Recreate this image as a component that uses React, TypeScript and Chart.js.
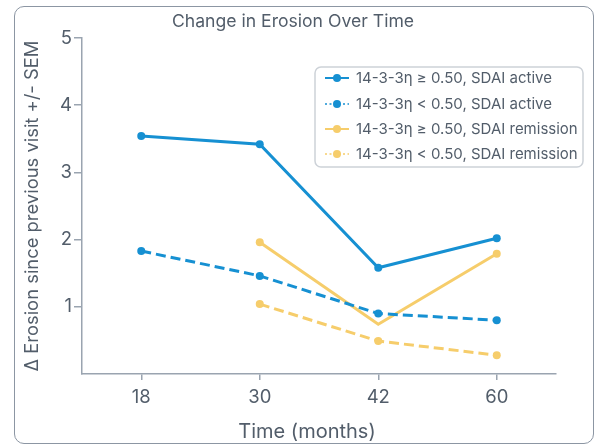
import React, { useEffect, useRef } from "react";
import { Chart, registerables } from "chart.js";

Chart.register(...registerables);

const categories = ["18", "30", "42", "60"];
const highActive = [3.54, 3.42, 1.58, 2.02];
const lowActive = [1.83, 1.46, 0.9, 0.8];
const highRemission = [null, 1.96, 0.74, 1.79];
const lowRemission = [null, 1.04, 0.49, 0.28];
const seriesLabels = [
  "14-3-3η ≥ 0.50, SDAI active",
  "14-3-3η < 0.50, SDAI active",
  "14-3-3η ≥ 0.50, SDAI remission",
  "14-3-3η < 0.50, SDAI remission",
];
const yTicks = [1, 2, 3, 4, 5];
const chartTitle = "Change in Erosion Over Time";
const xTitle = "Time (months)";
const yTitle = "Δ Erosion since previous visit +/- SEM";

const BLUE = "#1690d2";
const YELLOW = "#f6cd6b";
const AXIS = "#9aa4b0";
const TEXT = "#525d6a";
const FONT = "Inter";

const textPlugin = {
  id: "texts",
  afterDraw(chart: any) {
    const ctx = chart.ctx;
    ctx.save();
    ctx.fillStyle = TEXT;
    ctx.textAlign = "center";
    ctx.textBaseline = "middle";
    ctx.font = `17.6px ${FONT}`;
    ctx.fillText(chartTitle, 293, 22);
    ctx.font = `20px ${FONT}`;
    ctx.fillText(xTitle, 307, 432);

    const bx = 315, by = 67, bw = 268, bh = 100;
    ctx.beginPath();
    ctx.roundRect(bx, by, bw, bh, 6);
    ctx.fillStyle = "#ffffff";
    ctx.fill();
    ctx.strokeStyle = "#cdd2d8";
    ctx.lineWidth = 1.5;
    ctx.stroke();
    const rows = [78, 104, 129, 154];
    chart.data.datasets.forEach((ds: any, i: number) => {
      const y = rows[i];
      const dashed = ds.borderDash && ds.borderDash.length;
      ctx.beginPath();
      ctx.strokeStyle = ds.borderColor;
      ctx.lineWidth = dashed ? 1.5 : 2;
      ctx.setLineDash(dashed ? [2, 2.5] : []);
      ctx.moveTo(325, y);
      ctx.lineTo(349, y);
      ctx.stroke();
      ctx.setLineDash([]);
      ctx.beginPath();
      ctx.fillStyle = ds.borderColor;
      ctx.arc(337, y, 4, 0, Math.PI * 2);
      ctx.fill();
      ctx.fillStyle = TEXT;
      ctx.font = `15px ${FONT}`;
      ctx.textBaseline = "middle";
      ctx.textAlign = "left";
      ctx.fillText(ds.label, 356, y);
    });
    ctx.restore();
  },
};

export default function App() {
  const ref = useRef<HTMLCanvasElement>(null);
  useEffect(() => {
    document.body.style.margin = "0";
    const chart = new Chart(ref.current!, {
      type: "line",
      data: {
        labels: categories,
        datasets: [
          {
            label: seriesLabels[0],
            data: highActive,
            borderColor: BLUE,
            backgroundColor: BLUE,
            borderWidth: 3,
            pointRadius: 4,
            pointBorderWidth: 0,
            tension: 0,
          },
          {
            label: seriesLabels[1],
            data: lowActive,
            borderColor: BLUE,
            backgroundColor: BLUE,
            borderWidth: 3,
            borderDash: [10, 5],
            pointRadius: 4,
            pointBorderWidth: 0,
            tension: 0,
          },
          {
            label: seriesLabels[2],
            data: highRemission,
            borderColor: YELLOW,
            backgroundColor: YELLOW,
            borderWidth: 3,
            pointRadius: [4, 4, 0, 4],
            pointBorderWidth: 0,
            tension: 0,
          },
          {
            label: seriesLabels[3],
            data: lowRemission,
            borderColor: YELLOW,
            backgroundColor: YELLOW,
            borderWidth: 3,
            borderDash: [10, 5],
            pointRadius: 4,
            pointBorderWidth: 0,
            tension: 0,
          },
        ] as any,
      },
      options: {
        animation: false,
        responsive: false,
        maintainAspectRatio: false,
        layout: { padding: { left: 14, right: 39, top: 38, bottom: 0 } },
        plugins: {
          legend: { display: false },
          tooltip: { enabled: false },
          title: { display: false },
        },
        scales: {
          x: {
            type: "category",
            offset: true,
            grid: { display: true, drawOnChartArea: false, tickLength: 6, color: AXIS, lineWidth: 1.5 },
            border: { display: true, color: AXIS, width: 1.5 },
            ticks: { color: TEXT, font: { family: FONT, size: 18.5 }, padding: 6, maxRotation: 0 },
            title: { display: false },
            afterFit: (s: any) => {
              s.height = 72;
            },
          },
          y: {
            min: 0,
            max: 5,
            afterBuildTicks: (s: any) => {
              s.ticks = yTicks.map((v) => ({ value: v }));
            },
            grid: { display: true, drawOnChartArea: false, tickLength: 8, color: AXIS, lineWidth: 1.5 },
            border: { display: true, color: AXIS, width: 1.5 },
            ticks: { color: TEXT, font: { family: FONT, size: 18.5 }, padding: 2 },
            title: {
              display: true,
              text: yTitle,
              color: TEXT,
              font: { family: FONT, size: 18.4 },
              padding: { top: 7, bottom: 0 },
            },
            afterFit: (s: any) => {
              s.width = 68;
            },
          },
        },
      } as any,
      plugins: [textPlugin],
    });
    return () => chart.destroy();
  }, []);

  return (
    <div style={{ position: "absolute", left: 0, top: 0, width: 595, height: 446, background: "#fff", overflow: "hidden" }}>
      <div
        style={{
          position: "absolute",
          left: 14,
          top: 6,
          width: 580,
          height: 438,
          border: "1.5px solid #8c96a3",
          borderRadius: 10,
          boxSizing: "border-box",
        }}
      />
      <canvas ref={ref} width={595} height={446} style={{ position: "absolute", left: 0, top: 0 }} />
    </div>
  );
}
